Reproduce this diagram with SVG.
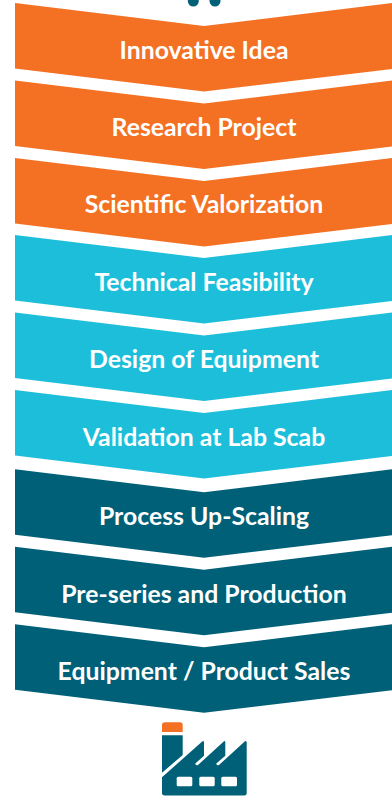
<svg xmlns="http://www.w3.org/2000/svg" width="392" height="796" viewBox="0 0 392 796">
<style>
.t{font-family:Lato,"Open Sans",sans-serif;font-weight:700;font-size:24.800px;fill:#fff;text-anchor:middle}
.o{fill:#f47023}.c{fill:#1dbed9}.d{fill:#006078}
</style>
<defs><path id="s" d="M15 3L204 26L392 3V69L204 91.500L15 68.500Z"/></defs>
<rect x="0" y="0" width="392" height="796" fill="#fff"/>
<g id="top-dots" class="d"><circle cx="193.300" cy="1" r="5.500"/><circle cx="215" cy="1" r="5.500"/></g>
<g id="n1"><use href="#s" class="o"/><text class="t" x="204" y="59.300">Innovative Idea</text></g>
<g id="n2"><use href="#s" y="77.500" class="o"/><text class="t" x="204" y="136">Research Project</text></g>
<g id="n3"><use href="#s" y="155" class="o"/><text class="t" x="204" y="213.300">Scientific Valorization</text></g>
<g id="n4"><use href="#s" y="232" class="c"/><text class="t" x="204" y="291">Technical Feasibility</text></g>
<g id="n5"><use href="#s" y="309.500" class="c"/><text class="t" x="204" y="368">Design of Equipment</text></g>
<g id="n6"><use href="#s" y="387" class="c"/><text class="t" x="204" y="446">Validation at Lab Scab</text></g>
<g id="n7"><use href="#s" y="466.300" class="d"/><text class="t" x="204" y="525">Process Up-Scaling</text></g>
<g id="n8"><use href="#s" y="543.700" class="d"/><text class="t" x="204" y="602.700">Pre-series and Production</text></g>
<g id="n9"><use href="#s" y="621.300" class="d"/><text class="t" x="204" y="679.500">Equipment / Product Sales</text></g>
<g id="factory">
<path class="o" d="M162 732V725Q162 722.300 165 722.300H180Q182.700 722.300 182.700 725V732Z"/>
<path class="d" d="M162 735.300H182.700V755L162 772.700ZM162 777.300L202.500 741.200Q204 740.400 204 742.500V755.700L195.300 763.500Q195.500 766 198 765L224 741.200Q225.300 740.400 225.300 742.500V755.700L216.300 763.500Q216.500 766 219 765L245 741.200Q246.700 740.400 246.700 742.500V793Q246.700 795.500 244 795.500H165Q162 795.500 162 793Z"/>
<g fill="#fff"><rect x="176.700" y="776.700" width="15.600" height="9.500" rx="1.500"/><rect x="199.300" y="776.700" width="15.400" height="9.500" rx="1.500"/><rect x="221.300" y="776.700" width="15.700" height="9.500" rx="1.500"/></g>
</g>
</svg>
